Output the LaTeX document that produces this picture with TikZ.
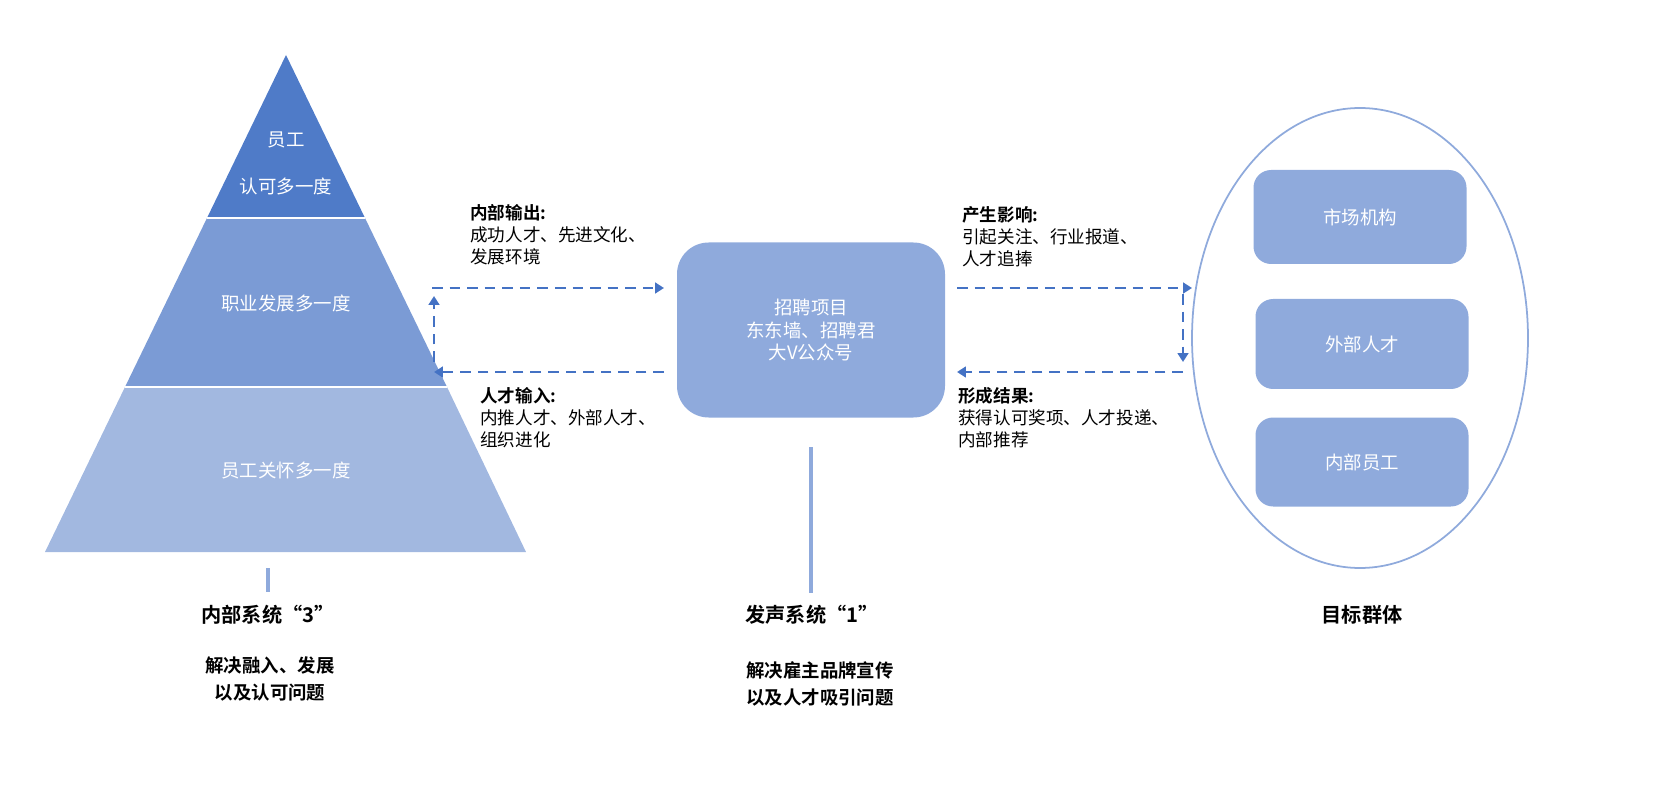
\documentclass[tikz,border=0pt]{standalone}
\usepackage{fontspec}
\setmainfont{Noto Sans CJK SC}
\newfontfamily\cjkb{Noto Sans CJK SC Bold}
\usetikzlibrary{arrows.meta,shapes.geometric}
\definecolor{c1}{HTML}{4F7BC8}
\definecolor{c2}{HTML}{7B9BD5}
\definecolor{c3}{HTML}{A2B8E0}
\definecolor{cb}{HTML}{8FAADC}
\definecolor{ca}{HTML}{4472C4}
\tikzset{
  box/.style={fill=cb,draw=none,rounded corners=10pt,text=white,font=\fontsize{10.5}{13}\selectfont,align=center},
  darr/.style={draw=ca,line width=1.5pt,dash pattern=on 6pt off 4pt,-{Triangle[length=5pt,width=6pt]}},
  lab/.style={align=left,anchor=north west,font=\fontsize{10}{12.5}\selectfont,inner sep=0},
  ttl/.style={font=\cjkb\fontsize{11.5}{15}\selectfont,align=center},
}
\begin{document}
\begin{tikzpicture}[x=0.02cm,y=-0.02cm]
\useasboundingbox (0,0) rectangle (1661,804);
% pyramid
\fill[c1] (286,55) -- (365,218) -- (207,218) -- cycle;
\fill[c2] (207,218) -- (365,218) -- (447,387) -- (125,387) -- cycle;
\fill[c3] (125,387) -- (447,387) -- (526,552) -- (45,552) -- cycle;
\draw[white,line width=1pt] (207,218) -- (365,218) (125,387) -- (447,387);
\node[text=white,font=\fontsize{10.5}{13}\selectfont] (p1) at (286,140) {员工};
\node[text=white,font=\fontsize{10.5}{13}\selectfont] (p1b) at (286,186) {认可多一度};
\node[text=white,font=\fontsize{10.5}{13}\selectfont] (p2) at (286,303) {职业发展多一度};
\node[text=white,font=\fontsize{10.5}{13}\selectfont] (p3) at (286,470) {员工关怀多一度};
% center
\node[box,minimum width=268*0.02cm,minimum height=175*0.02cm,rounded corners=18pt] (c) at (811,330) {招聘项目\\东东墙、招聘君\\大V公众号};
% ellipse
\node[draw=cb,line width=1pt,ellipse,minimum width=336*0.02cm,minimum height=460*0.02cm] (e) at (1360,338) {};
\node[box,minimum width=213*0.02cm,minimum height=94*0.02cm] (b1) at (1360,217) {市场机构};
\node[box,minimum width=213*0.02cm,minimum height=90*0.02cm] (b2) at (1362,344) {外部人才};
\node[box,minimum width=213*0.02cm,minimum height=89*0.02cm] (b3) at (1362,462) {内部员工};
% arrows
\coordinate (a1) at (432,288); \coordinate (a2) at (664,288);
\coordinate (a3) at (664,372); \coordinate (a4) at (434,372);
\coordinate (a5) at (434,362); \coordinate (a6) at (434,296);
\draw[darr] (a1) -- (a2);
\draw[darr] (a3) -- (a4);
\draw[darr] (a5) -- (a6);
\coordinate (r1) at (957,288); \coordinate (r2) at (1192,288);
\coordinate (r3) at (1183,294); \coordinate (r4) at (1183,362);
\coordinate (r5) at (1183,372); \coordinate (r6) at (957,372);
\draw[darr] (r1) -- (r2);
\draw[darr] (r3) -- (r4);
\draw[darr] (r5) -- (r6);
% labels
\node[lab] (l1) at (470,204) {{\cjkb 内部输出:}\\成功人才、先进文化、\\发展环境};
\node[lab] (l2) at (962,206) {{\cjkb 产生影响:}\\引起关注、行业报道、\\人才追捧};
\node[lab] (l3) at (480,387) {{\cjkb 人才输入:}\\内推人才、外部人才、\\组织进化};
\node[lab] (l4) at (958,387) {{\cjkb 形成结果:}\\获得认可奖项、人才投递、\\内部推荐};
% stems
\coordinate (s1) at (268,568); \coordinate (s2) at (268,592);
\coordinate (s3) at (811,447); \coordinate (s4) at (811,593);
\draw[cb,line width=2.5pt] (s1) -- (s2);
\draw[cb,line width=2.5pt] (s3) -- (s4);
% titles
\node[ttl] (t1) at (268,615) {内部系统“3”};
\node[ttl,font=\cjkb\fontsize{10.5}{15}\selectfont] (t1b) at (270,679) {解决融入、发展\\以及认可问题};
\node[ttl] (t2) at (812,615) {发声系统“1”};
\node[ttl,font=\cjkb\fontsize{10.5}{15}\selectfont] (t2b) at (820,684) {解决雇主品牌宣传\\以及人才吸引问题};
\node[ttl] (t3) at (1362,615) {目标群体};
\end{tikzpicture}
\end{document}
